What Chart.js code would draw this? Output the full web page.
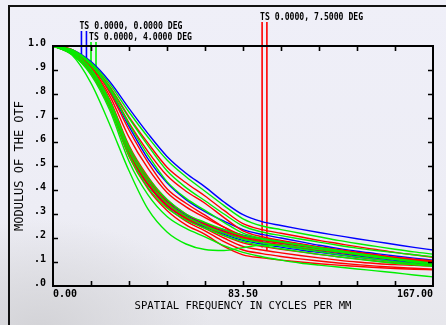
<!DOCTYPE html>
<html>
<head>
<meta charset="utf-8">
<script src="https://cdn.jsdelivr.net/npm/chart.js@4.4.1/dist/chart.umd.min.js"></script>
<style>
html, body { margin: 0; padding: 0; }
body {
  width: 446px; height: 325px; overflow: hidden; position: relative;
  background:
    radial-gradient(ellipse 170px 110px at 40px 330px, #d3d3d7 0%, rgba(211,211,215,0) 100%),
    linear-gradient(#efeff8 0%, #ededf5 65%, #e7e7ec 100%);
}
#frame { position: absolute; left: 8px; top: 5px; width: 450px; height: 330px;
  border-left: 2px solid #111; border-top: 2px solid #111; }
#myChart { position: absolute; left: 0; top: 0; }
</style>
</head>
<body>
<div id="frame"></div>
<canvas id="myChart" width="446" height="325"></canvas>
<script>
// spatial frequency samples (cycles per mm), every 8.35
const freqs = [0, 8.35, 16.7, 25.05, 33.4, 41.75, 50.1, 58.45, 66.8, 75.15, 83.5,
               91.85, 100.2, 108.55, 116.9, 125.25, 133.6, 141.95, 150.3, 158.65, 167];

const blueCurves = [
  [1, .985, .935, .85, .74, .635, .54, .47, .413, .35, .297, .268, .252, .237, .223, .21, .197, .185, .173, .161, .15],
  [1, .98, .92, .81, .665, .53, .43, .36, .31, .27, .235, .215, .20, .185, .17, .157, .145, .135, .125, .116, .108],
  [1, .975, .905, .77, .575, .445, .355, .295, .26, .235, .212, .198, .186, .174, .162, .15, .138, .127, .116, .106, .096],
  [1, .975, .90, .765, .565, .435, .345, .29, .255, .228, .205, .19, .178, .166, .155, .144, .133, .122, .112, .103, .095],
  [1, .97, .895, .755, .555, .425, .34, .285, .25, .22, .198, .183, .17, .158, .147, .136, .126, .116, .107, .099, .092],
  [1, .97, .89, .75, .55, .42, .335, .28, .245, .215, .19, .175, .162, .15, .14, .13, .12, .111, .102, .095, .088]
];
const greenCurves = [
  [1, .985, .93, .84, .725, .62, .525, .455, .395, .335, .28, .25, .235, .22, .205, .19, .177, .165, .153, .142, .133],
  [1, .98, .925, .825, .70, .585, .48, .41, .355, .30, .25, .225, .21, .196, .183, .17, .158, .148, .139, .13, .122],
  [1, .98, .92, .815, .675, .545, .435, .365, .315, .265, .22, .198, .185, .172, .16, .148, .136, .125, .113, .101, .09],
  [1, .975, .905, .77, .58, .45, .36, .30, .265, .235, .21, .195, .183, .171, .159, .147, .135, .124, .114, .104, .095],
  [1, .97, .89, .745, .545, .41, .325, .275, .24, .21, .185, .168, .155, .143, .132, .122, .112, .103, .095, .088, .082],
  [1, .965, .88, .73, .52, .38, .29, .24, .205, .168, .14, .122, .108, .096, .087, .079, .071, .063, .055, .046, .038],
  [1, .962, .845, .67, .48, .32, .225, .175, .152, .148, .16, .17, .17, .162, .152, .142, .131, .12, .11, .10, .09],
  [1, .975, .90, .76, .565, .435, .345, .29, .25, .22, .195, .18, .167, .155, .143, .132, .121, .111, .101, .093, .085]
];
const redCurves = [
  [1, .985, .925, .83, .705, .595, .495, .43, .375, .315, .26, .235, .22, .205, .19, .177, .164, .152, .14, .13, .12],
  [1, .98, .92, .82, .68, .56, .46, .395, .345, .285, .23, .205, .19, .176, .163, .151, .14, .129, .119, .11, .10],
  [1, .98, .915, .805, .65, .515, .405, .345, .295, .245, .205, .19, .18, .17, .16, .15, .14, .13, .12, .112, .105],
  [1, .975, .905, .775, .585, .455, .36, .30, .262, .232, .205, .192, .18, .168, .157, .146, .135, .125, .115, .107, .10],
  [1, .975, .90, .765, .57, .445, .35, .29, .255, .225, .198, .184, .172, .16, .15, .14, .13, .12, .111, .104, .098],
  [1, .97, .895, .755, .56, .43, .34, .28, .24, .20, .165, .15, .138, .127, .117, .108, .10, .094, .089, .086, .083],
  [1, .97, .89, .75, .55, .42, .33, .27, .23, .185, .15, .135, .123, .113, .104, .096, .089, .083, .078, .074, .07],
  [1, .965, .885, .74, .54, .405, .315, .255, .215, .165, .13, .117, .108, .10, .093, .087, .082, .077, .073, .07, .068],
  [1, .975, .91, .79, .62, .49, .39, .33, .285, .245, .21, .195, .182, .17, .158, .147, .136, .125, .115, .107, .10],
  [1, .97, .895, .76, .565, .435, .345, .285, .25, .21, .18, .165, .153, .142, .132, .122, .113, .104, .096, .092, .088]
];

// legend marker lines: [x, top, bottom]
const blueMarkers = [[12.5, 1.0625, .93], [14.7, 1.0625, .91]];
const greenMarkers = [[16.7, 1.017, .90], [18.9, 1.017, .87]];
const redMarkers = [[91.9, 1.10, .16], [94.0, 1.10, .15]];
const legendLabels = ['TS 0.0000, 0.0000 DEG', 'TS 0.0000, 4.0000 DEG', 'TS 0.0000, 7.5000 DEG'];

const xTickValues = [0, 16.7, 33.4, 50.1, 66.8, 83.5, 100.2, 116.9, 133.6, 150.3, 167];
const xTickLabels = ['0.00', '83.50', '167.00'];
const xTickLabelValues = [0, 83.5, 167];
const yTickValues = [.1, .2, .3, .4, .5, .6, .7, .8, .9];

const BLUE = '#0000ff', GREEN = '#00ee00', RED = '#ff0000';

function curveSet(list, color) {
  return list.map(vals => ({
    data: vals.map((v, i) => ({x: freqs[i], y: v})),
    borderColor: color,
    borderWidth: 1.4,
    pointRadius: 0,
    cubicInterpolationMode: 'monotone',
    fill: false
  }));
}
function markerSet(list, color) {
  return list.map(m => ({
    data: [{x: m[0], y: m[1]}, {x: m[0], y: m[2]}],
    borderColor: color,
    borderWidth: 1.6,
    pointRadius: 0,
    clip: false,
    fill: false
  }));
}

const markerGroups = [blueMarkers, greenMarkers, redMarkers];

const mtfDecor = {
  id: 'mtfDecor',
  afterDraw(chart) {
    const ctx = chart.ctx;
    const ca = chart.chartArea;
    const xs = chart.scales.x, ys = chart.scales.y;
    ctx.save();
    ctx.strokeStyle = '#000';
    ctx.lineWidth = 2;
    ctx.strokeRect(ca.left, ca.top, ca.right - ca.left, ca.bottom - ca.top);
    ctx.lineWidth = 1.6;
    ctx.beginPath();
    xTickValues.slice(1, -1).forEach(v => {
      const px = Math.round(xs.getPixelForValue(v)) + 0.5;
      ctx.moveTo(px, ca.bottom); ctx.lineTo(px, ca.bottom - 5);
      ctx.moveTo(px, ca.top); ctx.lineTo(px, ca.top + 5);
    });
    yTickValues.forEach(v => {
      const py = Math.round(ys.getPixelForValue(v)) + 0.5;
      ctx.moveTo(ca.left, py); ctx.lineTo(ca.left + 5, py);
      ctx.moveTo(ca.right, py); ctx.lineTo(ca.right - 5, py);
    });
    ctx.stroke();

    // x tick labels
    ctx.fillStyle = '#000';
    ctx.font = 'bold 10px "DejaVu Sans Mono"';
    ctx.textBaseline = 'middle';
    xTickLabels.forEach((t, i) => {
      ctx.textAlign = i === 0 ? 'left' : (i === xTickLabels.length - 1 ? 'right' : 'center');
      ctx.fillText(t, xs.getPixelForValue(xTickLabelValues[i]), ca.bottom + 8);
    });

    // legend labels above the marker lines
    ctx.font = 'bold 11px "DejaVu Sans Mono"';
    ctx.textAlign = 'left';
    ctx.textBaseline = 'alphabetic';
    legendLabels.forEach((t, i) => {
      const m = markerGroups[i][0];
      const px = xs.getPixelForValue(m[0]) - 2;
      const py = ys.getPixelForValue(m[1]) - 2;
      ctx.fillText(t, px, py, 103);
    });
    ctx.restore();
  }
};

const ctx = document.getElementById('myChart').getContext('2d');
const myChart = new Chart(ctx, {
  type: 'line',
  data: {
    datasets: [
      ...curveSet(greenCurves, GREEN),
      ...curveSet(redCurves, RED),
      ...curveSet(blueCurves, BLUE),
      ...markerSet(blueMarkers, BLUE),
      ...markerSet(greenMarkers, GREEN),
      ...markerSet(redMarkers, RED)
    ]
  },
  options: {
    responsive: false,
    animation: false,
    layout: { padding: { left: 8, right: 13, top: 46, bottom: 0 } },
    plugins: { legend: { display: false }, tooltip: { enabled: false } },
    scales: {
      x: {
        type: 'linear', min: 0, max: 167,
        grid: { display: false, drawTicks: false },
        border: { display: false },
        ticks: { display: false },
        title: {
          display: true, text: 'SPATIAL FREQUENCY IN CYCLES PER MM', color: '#000',
          font: { family: '"DejaVu Sans Mono"', size: 10.6 }, padding: { top: 0, bottom: 12 }
        },
        afterFit(scale) { scale.height = 39; }
      },
      y: {
        min: 0, max: 1,
        grid: { display: false, drawTicks: false },
        border: { display: false },
        ticks: {
          stepSize: 0.1, autoSkip: false, color: '#000', padding: 7, labelOffset: -3,
          font: { family: '"DejaVu Sans Mono"', size: 10, weight: 'bold' },
          callback: v => v >= 0.999 ? '1.0' : '.' + Math.round(v * 10)
        },
        title: {
          display: true, text: 'MODULUS OF THE OTF', color: '#000',
          font: { family: '"DejaVu Sans Mono"', size: 12 }, padding: { top: 5, bottom: 0 }
        },
        afterFit(scale) { scale.width = 45; }
      }
    }
  },
  plugins: [mtfDecor]
});
</script>
</body>
</html>
